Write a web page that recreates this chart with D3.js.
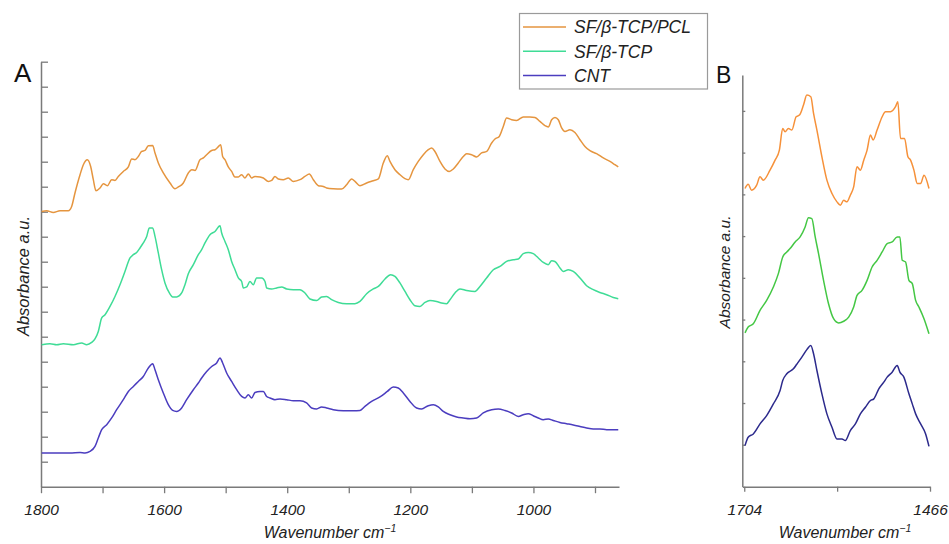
<!DOCTYPE html>
<html>
<head>
<meta charset="utf-8">
<script src="https://cdn.jsdelivr.net/npm/d3@7"></script>
<style>
  body { margin: 0; background: #fff; }
  text { font-family: "Liberation Sans", Arial, sans-serif; }
</style>
</head>
<body>
<script>
// Datos: pares [número de onda, absorbancia (u.a., con desplazamiento)]
const etiquetas = ["SF/β-TCP/PCL", "SF/β-TCP", "CNT"];
const coloresA = ["#e5953f", "#3fdc96", "#4b3dbf"];
const coloresB = ["#f6913a", "#44c744", "#2c2a8c"];

const ticksXA = [1800, 1700, 1600, 1500, 1400, 1300, 1200, 1100, 1000, 900];
const ticksXB = [1704, 1585, 1466];

// Panel A
const A_PCL = [[1799,11.01],[1790.8,11.04],[1780,10.97],[1769.1,11.04],[1755.6,11.04],[1750.2,11.21],[1744.8,11.75],[1736.6,12.48],[1731.2,12.88],[1724.7,13.08],[1719.3,12.81],[1715,12.28],[1710.7,11.84],[1704.2,11.95],[1698.7,12.12],[1692.2,12.04],[1685.2,12.28],[1679.8,12.25],[1674.4,12.41],[1666.3,12.61],[1658.1,12.79],[1652.7,13.11],[1647.3,13.08],[1641.9,13.21],[1636.5,13.41],[1631.1,13.45],[1625.6,13.64],[1618.6,13.65],[1614.8,13.35],[1609.4,12.95],[1601.3,12.55],[1590.4,12.15],[1582.3,11.92],[1576.9,11.99],[1568.8,12.15],[1560.7,12.55],[1555.2,12.68],[1549.8,12.65],[1541.7,13.08],[1536.3,13.15],[1530.9,13.28],[1522.8,13.45],[1517.3,13.48],[1510.3,13.64],[1508.1,13.68],[1504.9,13.21],[1501.1,13.08],[1495.7,12.79],[1490.3,12.61],[1484.9,12.39],[1479.4,12.39],[1474,12.48],[1468.6,12.35],[1463.2,12.51],[1457.8,12.35],[1452.4,12.41],[1444.2,12.39],[1438.8,12.35],[1430.7,12.21],[1425.3,12.25],[1419.9,12.41],[1414.5,12.31],[1406.4,12.28],[1398.2,12.35],[1390.1,12.21],[1379.3,12.28],[1371.2,12.41],[1364.1,12.51],[1357.6,12.28],[1349.5,12.04],[1341.4,12.01],[1336,11.95],[1325.1,11.92],[1311.6,11.91],[1303.5,12.08],[1295.3,12.31],[1289.9,12.21],[1281.8,12.04],[1271,12.15],[1260.2,12.24],[1252,12.31],[1243.9,12.95],[1237.4,13.24],[1233.1,13.01],[1225,12.68],[1216.8,12.48],[1208.7,12.32],[1203.3,12.28],[1195.2,12.68],[1187.1,13.01],[1178.9,13.28],[1170.8,13.48],[1165.4,13.55],[1160,13.41],[1151.8,13.01],[1143.7,12.71],[1136.7,12.61],[1130.2,12.71],[1122.1,12.95],[1114,13.21],[1108.5,13.32],[1100.4,13.28],[1092.3,13.19],[1084.2,13.35],[1076,13.41],[1067.9,13.75],[1062.5,13.91],[1055.5,14.01],[1049,14.41],[1043.6,14.75],[1035.4,14.68],[1027.3,14.65],[1016.5,14.79],[1005.7,14.79],[997.5,14.77],[989.4,14.61],[981.3,14.44],[975.9,14.39],[970.4,14.68],[965,14.77],[959.6,14.68],[954.2,14.35],[948.8,14.21],[940.7,14.28],[932.6,14.17],[924.4,13.88],[916.3,13.61],[908.2,13.44],[897.4,13.32],[886.5,13.15],[875.7,13.01],[867.6,12.88],[862.2,12.79]];

const A_TCP = [[1798.9,5.68],[1785.4,5.72],[1774.5,5.68],[1763.7,5.72],[1747.5,5.68],[1733.9,5.75],[1725.8,5.68],[1717.7,5.77],[1712.3,5.91],[1706.9,6.21],[1701.4,6.75],[1696,6.88],[1687.9,7.21],[1679.8,7.61],[1671.7,8.08],[1663.6,8.61],[1655.4,9.15],[1650,9.28],[1644.6,9.37],[1639.2,9.55],[1633.8,9.75],[1628.3,10.01],[1624,10.35],[1618.6,10.35],[1614.8,10.01],[1609.4,9.35],[1604,8.68],[1598.6,8.15],[1591.5,7.75],[1586.1,7.59],[1579.6,7.59],[1571.5,7.75],[1566.1,8.08],[1560.7,8.52],[1552.5,8.88],[1544.4,9.28],[1539,9.48],[1533.6,9.75],[1525.5,10.08],[1517.3,10.21],[1509.2,10.44],[1506.5,10.15],[1501.1,9.81],[1495.7,9.48],[1490.3,9.01],[1484.8,8.68],[1479.4,8.35],[1474,8.21],[1471.3,7.95],[1465.9,7.99],[1460.5,8.21],[1455.1,8.08],[1449.7,8.35],[1441.5,8.35],[1436.1,8.21],[1433.4,7.95],[1425.3,7.91],[1417.2,7.95],[1409,7.99],[1400.9,7.91],[1390.1,7.88],[1379.3,7.88],[1371.2,7.75],[1363.1,7.51],[1352.2,7.45],[1344.1,7.59],[1336,7.61],[1327.9,7.48],[1317,7.37],[1303.5,7.32],[1290,7.32],[1281.8,7.41],[1271,7.72],[1260.2,7.91],[1252,8.01],[1241.2,8.31],[1232,8.48],[1225,8.41],[1216.9,8.15],[1208.7,7.81],[1200.6,7.48],[1192.5,7.24],[1184.4,7.21],[1176.2,7.37],[1168.1,7.45],[1157.3,7.41],[1149.2,7.35],[1141,7.32],[1135.6,7.48],[1127.5,7.75],[1119.4,7.91],[1108.6,7.85],[1095,7.81],[1086.9,8.01],[1076.1,8.35],[1065.2,8.68],[1054.4,8.81],[1043.6,9.01],[1032.7,9.08],[1024.6,9.11],[1016.5,9.32],[1008.4,9.37],[1000.3,9.32],[992.1,9.15],[984,8.97],[975.9,8.88],[970.5,9.04],[965.1,9.01],[956.9,8.75],[951.5,8.61],[943.4,8.68],[935.3,8.61],[924.4,8.35],[913.6,8.04],[902.8,7.88],[892,7.77],[881.1,7.68],[870.3,7.57],[862.2,7.52]];

const A_CNT = [[1798.9,1.35],[1785.4,1.35],[1769.1,1.35],[1752.9,1.35],[1736.6,1.37],[1728.5,1.35],[1720.4,1.41],[1712.3,1.61],[1706.9,1.95],[1701.4,2.28],[1693.3,2.48],[1685.2,2.75],[1677.1,3.08],[1666.3,3.48],[1658.1,3.81],[1650,4.01],[1641.9,4.21],[1633.8,4.41],[1625.6,4.75],[1618.6,4.92],[1614.8,4.68],[1609.4,4.28],[1601.3,3.75],[1593.2,3.28],[1586.1,3.05],[1579.6,3.01],[1571.5,3.15],[1563.4,3.48],[1552.5,3.88],[1544.4,4.15],[1539,4.35],[1530.9,4.61],[1522.7,4.81],[1514.6,4.95],[1509.2,5.15],[1504.9,4.95],[1498.4,4.55],[1490.3,4.21],[1482.1,3.88],[1474,3.61],[1468.6,3.55],[1463.2,3.68],[1457.8,3.55],[1452.4,3.77],[1444.2,3.81],[1438.8,3.81],[1433.4,3.61],[1428,3.55],[1419.9,3.48],[1411.7,3.51],[1400.9,3.48],[1390.1,3.44],[1379.3,3.44],[1368.5,3.35],[1360.3,3.15],[1352.2,3.11],[1344.1,3.19],[1336,3.15],[1325.2,3.08],[1308.9,3.04],[1292.7,3.04],[1281.8,3.05],[1273.7,3.21],[1262.9,3.41],[1249.3,3.59],[1237.4,3.81],[1227.7,3.99],[1219.6,3.95],[1211.4,3.75],[1200.6,3.41],[1189.8,3.15],[1181.7,3.11],[1170.8,3.24],[1162.7,3.28],[1154.6,3.19],[1146.5,3.01],[1135.6,2.88],[1124.8,2.79],[1114,2.75],[1103.1,2.72],[1092.3,2.75],[1081.5,2.95],[1067.9,3.08],[1057.1,3.11],[1046.3,3.05],[1035.4,2.95],[1024.6,2.81],[1016.5,2.88],[1008.4,2.92],[1000.3,2.84],[992.1,2.75],[984,2.68],[975.9,2.71],[967.8,2.65],[957,2.57],[946.1,2.52],[935.3,2.47],[924.4,2.41],[913.6,2.35],[902.8,2.31],[892,2.31],[881.1,2.28],[870.3,2.28],[862.2,2.28]];

// Panel B (zoom de la región amida)
const B_PCL = [[1703,7.14],[1699,7.24],[1694.6,7.10],[1688.1,7.22],[1683.8,7.42],[1679.6,7.34],[1671,7.58],[1664.5,7.82],[1659,8.06],[1654.7,8.58],[1651.7,8.50],[1647.4,8.58],[1643.1,8.54],[1637.5,8.86],[1633.2,8.90],[1628.1,9.14],[1623.8,9.38],[1618.7,9.34],[1615.2,8.94],[1610.9,8.54],[1604.5,7.90],[1598.1,7.34],[1591.6,7.02],[1585.2,6.82],[1580.9,6.74],[1576.6,6.86],[1572.4,6.82],[1568.1,6.98],[1563.8,7.18],[1559.5,7.66],[1555.2,7.58],[1550.9,7.82],[1546.6,8.06],[1542.3,8.42],[1538.9,8.30],[1533.8,8.54],[1527.3,8.86],[1523,8.98],[1516.6,8.98],[1510.2,9.10],[1507.2,9.22],[1503.8,8.34],[1498.6,8.34],[1494.3,7.90],[1490.9,7.82],[1486.6,7.58],[1482.3,7.26],[1478,7.26],[1473.7,7.46],[1467.3,7.14]];

const B_TCP = [[1703,3.68],[1699,3.82],[1692.4,3.90],[1683.8,4.22],[1675.3,4.46],[1666.7,4.78],[1660.3,5.10],[1654.7,5.50],[1649.5,5.62],[1645.3,5.70],[1638.8,5.86],[1632.4,5.98],[1626,6.22],[1621.7,6.44],[1617.4,6.42],[1613.1,5.98],[1608.8,5.58],[1602.4,4.94],[1596,4.38],[1589.5,4.02],[1583.1,3.92],[1576.6,3.96],[1570.2,4.06],[1563.8,4.30],[1559.5,4.58],[1553.1,4.70],[1546.6,4.94],[1540.2,5.26],[1533.8,5.42],[1527.3,5.62],[1520.9,5.82],[1514.5,5.86],[1508,5.98],[1504.6,5.98],[1501.6,5.42],[1497.3,5.38],[1493,4.94],[1488.7,4.86],[1484.4,4.46],[1480.2,4.30],[1473.7,4.02],[1467.3,3.66]];

const B_CNT = [[1703,0.98],[1699,1.18],[1692.4,1.26],[1683.8,1.50],[1675.3,1.70],[1666.7,1.98],[1658.1,2.30],[1654.7,2.54],[1649.5,2.70],[1641,2.82],[1636.7,2.93],[1630.2,3.10],[1623.8,3.28],[1618.7,3.38],[1615.2,3.18],[1610.9,2.78],[1604.5,2.22],[1598.1,1.74],[1591.6,1.42],[1585.2,1.14],[1578.8,1.14],[1574.5,1.10],[1568.1,1.34],[1561.6,1.50],[1555.2,1.74],[1548.8,1.90],[1542.3,2.06],[1538,2.10],[1531.6,2.34],[1525.2,2.50],[1520.9,2.62],[1514.5,2.74],[1508,2.90],[1504.6,2.74],[1499.5,2.62],[1493,2.22],[1488.7,1.98],[1484.4,1.74],[1478,1.50],[1471.6,1.26],[1467.3,0.96]];

// Constantes de la visualización
const WIDTH = 949;
const HEIGHT = 544;
const COLOR_EJE = "#7a7a7a";

const svg = d3.select("body")
  .append("svg")
  .attr("width", WIDTH)
  .attr("height", HEIGHT);

// Escalas de cada panel
const escalaXA = d3.scaleLinear().domain([1800, 861]).range([41, 619]);
const escalaYA = d3.scaleLinear().domain([0, 17]).range([486.7, 61.7]);
const escalaXB = d3.scaleLinear().domain([1706.5, 1466]).range([742.3, 930]);
const escalaYB = d3.scaleLinear().domain([0, 9.86]).range([486.5, 75]);

// Función para dar estilo a los ejes
function estiloEje(g) {
  g.select(".domain").attr("stroke", COLOR_EJE).attr("stroke-width", 1.5);
  g.selectAll(".tick line").attr("stroke", COLOR_EJE).attr("stroke-width", 1.3);
  g.selectAll(".tick text")
    .attr("font-size", 15.5)
    .attr("font-style", "italic")
    .attr("fill", "#222");
}

// Ejes del panel A
svg.append("g")
  .attr("transform", "translate(41,0)")
  .call(d3.axisLeft(escalaYA).tickValues(d3.range(1, 18)).tickSize(-7).tickSizeOuter(0).tickFormat(""))
  .call(estiloEje);

svg.append("g")
  .attr("transform", "translate(0,486.7)")
  .call(d3.axisBottom(escalaXA).tickValues(ticksXA).tickSize(6.5).tickSizeOuter(0).tickPadding(10.5)
    .tickFormat(d => d % 200 === 0 ? d : ""))
  .call(estiloEje);

// Ejes del panel B
svg.append("g")
  .attr("transform", "translate(742.3,0)")
  .call(d3.axisLeft(escalaYB).tickValues(d3.range(1, 10)).tickSize(-3).tickSizeOuter(0).tickFormat(""))
  .call(estiloEje);

svg.append("g")
  .attr("transform", "translate(0,486.7)")
  .call(d3.axisBottom(escalaXB).tickValues(ticksXB).tickSize(5).tickSizeOuter(0).tickPadding(12)
    .tickFormat(d => d === 1585 ? "" : d))
  .call(estiloEje);

// Líneas de los espectros
const lineaA = d3.line().x(d => escalaXA(d[0])).y(d => escalaYA(d[1])).curve(d3.curveMonotoneX);
const lineaB = d3.line().x(d => escalaXB(d[0])).y(d => escalaYB(d[1])).curve(d3.curveMonotoneX);

svg.append("g")
  .selectAll("path")
  .data([A_PCL, A_TCP, A_CNT])
  .join("path")
  .attr("d", lineaA)
  .attr("fill", "none")
  .attr("stroke", (d, i) => coloresA[i])
  .attr("stroke-width", 1.5);

svg.append("g")
  .selectAll("path")
  .data([B_PCL, B_TCP, B_CNT])
  .join("path")
  .attr("d", lineaB)
  .attr("fill", "none")
  .attr("stroke", (d, i) => coloresB[i])
  .attr("stroke-width", 1.5);

// Títulos de los ejes
function tituloX(x) {
  const t = svg.append("text")
    .attr("x", x)
    .attr("y", 538)
    .attr("text-anchor", "middle")
    .attr("font-size", 16)
    .attr("font-style", "italic")
    .attr("fill", "#222")
    .text("Wavenumber cm");
  t.append("tspan").attr("font-size", 10.5).attr("dy", -6).text("−1");
}
tituloX(330);
tituloX(845);

svg.append("text")
  .attr("transform", "translate(28.5,276) rotate(-90)")
  .attr("text-anchor", "middle")
  .attr("font-size", 16.5)
  .attr("font-style", "italic")
  .attr("fill", "#222")
  .text("Absorbance a.u.");

svg.append("text")
  .attr("transform", "translate(730,272) rotate(-90)")
  .attr("text-anchor", "middle")
  .attr("font-size", 15.5)
  .attr("font-style", "italic")
  .attr("fill", "#222")
  .text("Absorbance a.u.");

// Letras de los paneles
svg.append("text").attr("x", 14).attr("y", 82).attr("font-size", 26).attr("fill", "#111").text("A");
svg.append("text").attr("x", 716).attr("y", 83).attr("font-size", 23).attr("fill", "#111").text("B");

// Leyenda
const leyenda = svg.append("g");
leyenda.append("rect")
  .attr("x", 519.5).attr("y", 13.5)
  .attr("width", 188).attr("height", 75.5)
  .attr("fill", "#fff")
  .attr("stroke", "#9a9a9a")
  .attr("stroke-width", 1.2);

const filas = leyenda.selectAll("g.fila")
  .data(etiquetas)
  .join("g")
  .attr("class", "fila")
  .attr("transform", (d, i) => `translate(0, ${27 + i * 24.3})`);

filas.append("line")
  .attr("x1", 523).attr("x2", 566)
  .attr("stroke", (d, i) => coloresA[i])
  .attr("stroke-width", 1.5);

filas.append("text")
  .attr("x", 574)
  .attr("y", 6.3)
  .attr("font-size", 17.5)
  .attr("font-style", "italic")
  .attr("fill", "#222")
  .text(d => d);
</script>
</body>
</html>
